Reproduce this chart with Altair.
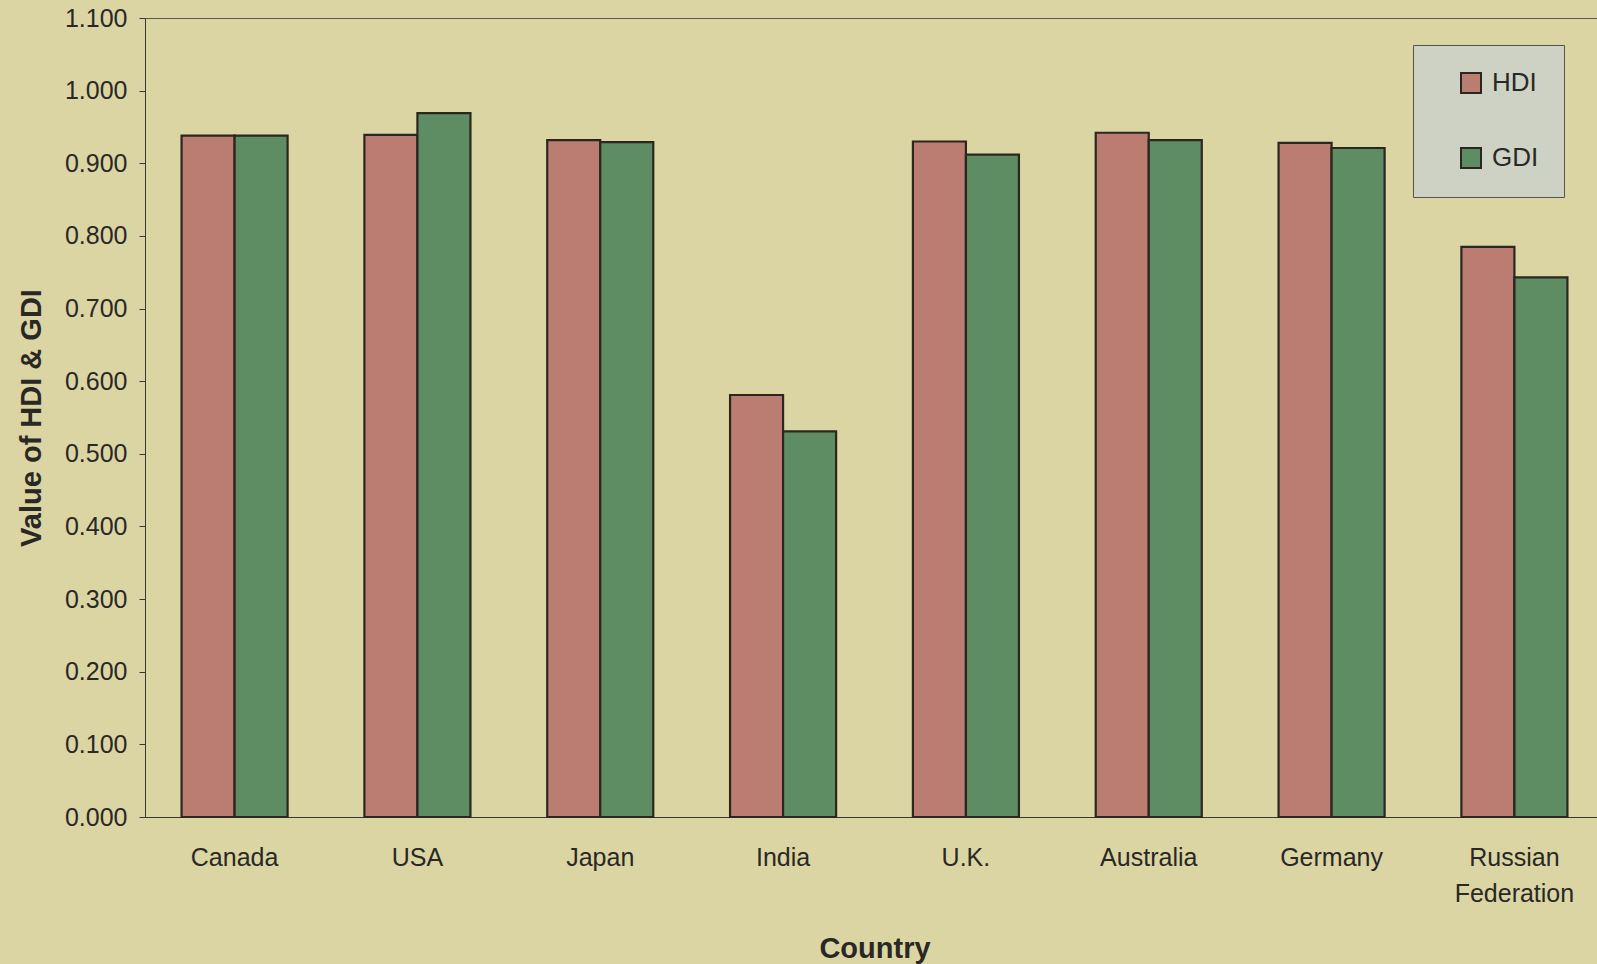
import altair as alt
import pandas as pd

# Human Development Index vs Gender-related Development Index by country
countries = ["Canada", "USA", "Japan", "India", "U.K.", "Australia", "Germany", "Russian Federation"]
hdi = [0.938, 0.939, 0.932, 0.581, 0.930, 0.942, 0.928, 0.785]
gdi = [0.938, 0.969, 0.929, 0.531, 0.912, 0.932, 0.921, 0.743]
indices = ["HDI", "GDI"]
index_colors = ["#bb7d71", "#5e8c63"]
y_ticks = [round(i * 0.1, 1) for i in range(12)]

rows = []
for c, h, g in zip(countries, hdi, gdi):
    rows.append({"Country": c, "Index": "HDI", "Value": h})
    rows.append({"Country": c, "Index": "GDI", "Value": g})
df = pd.DataFrame(rows)

FONT = "Liberation Sans"
TEXT = "#2a2825"

bars = alt.Chart(df).mark_bar(stroke="#2b2620", strokeWidth=2.2).encode(
    x=alt.X(
        "Country:N",
        sort=countries,
        scale=alt.Scale(paddingInner=0.42, range=[0, 1459]),
        axis=alt.Axis(
            title="Country",
            labelAngle=0,
            labelFontSize=25,
            labelPadding=28,
            labelLineHeight=36,
            labelExpr="datum.label == 'Russian Federation' ? ['Russian', 'Federation'] : datum.label",
            ticks=False,
            titleFontSize=29,
            titleFontWeight="bold",
            titlePadding=28,
        ),
    ),
    xOffset=alt.XOffset("Index:N", sort=indices),
    y=alt.Y(
        "Value:Q",
        scale=alt.Scale(domain=[0, 1.1], nice=False),
        axis=alt.Axis(
            title="Value of HDI & GDI",
            values=y_ticks,
            format=".3f",
            grid=False,
            tickSize=6,
            labelPadding=12,
            labelFontSize=25,
            titleFontSize=29,
            titleFontWeight="bold",
            titlePadding=18,
        ),
    ),
    color=alt.Color(
        "Index:N",
        sort=indices,
        scale=alt.Scale(domain=indices, range=index_colors),
        legend=alt.Legend(
            title=None,
            orient="none",
            legendX=1268,
            legendY=27,
            padding=25,
            fillColor="#cdd2c4",
            strokeColor="#555550",
            symbolType="square",
            symbolSize=400,
            symbolStrokeColor="#2b2620",
            symbolStrokeWidth=2,
            symbolOffset=20,
            labelFontSize=26,
            labelOffset=8,
            rowPadding=47,
        ),
    ),
)

chart = bars.properties(
    width=1452,
    height=799,
    autosize=alt.AutoSizeParams(type="none"),
    padding={"left": 145, "top": 18, "right": 0, "bottom": 147},
).configure(
    background="#dbd5a3",
    font=FONT,
).configure_view(
    stroke="#5a5850",
    strokeWidth=1,
).configure_axis(
    domainColor="#3a3835",
    tickColor="#3a3835",
    labelColor=TEXT,
    titleColor=TEXT,
    labelFont=FONT,
    titleFont=FONT,
).configure_legend(
    labelColor=TEXT,
    labelFont=FONT,
)

chart.save("out.html", embed_options={"renderer": "svg", "actions": False})
